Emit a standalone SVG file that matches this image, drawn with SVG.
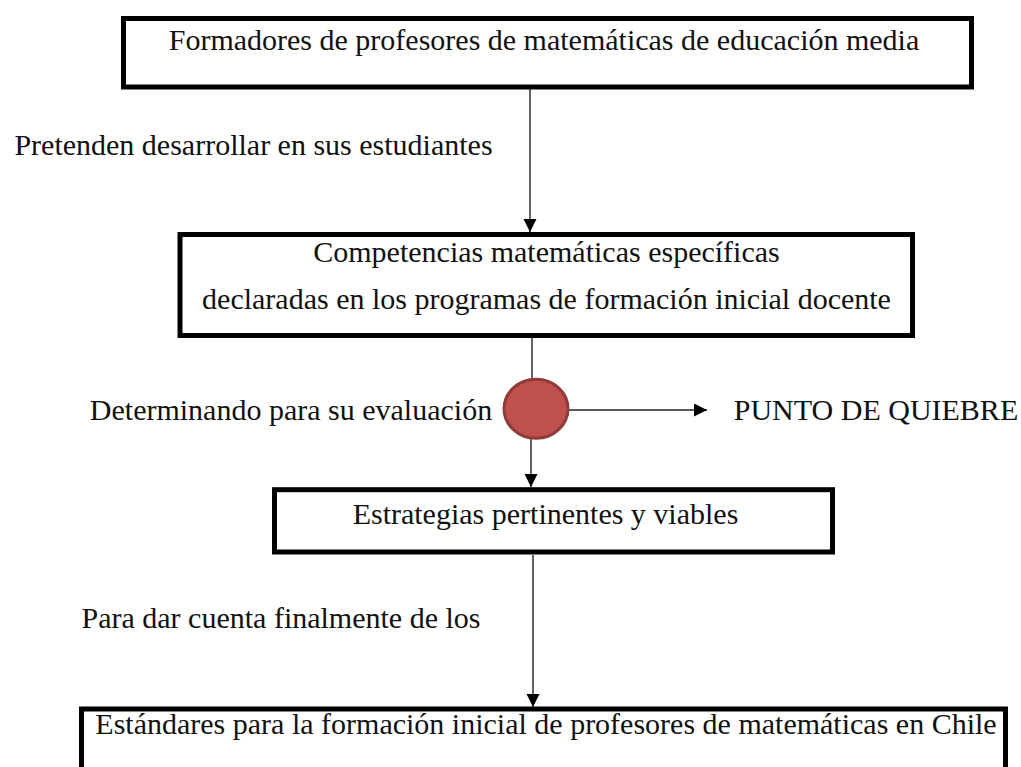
<svg xmlns="http://www.w3.org/2000/svg" width="1021" height="767" viewBox="0 0 1021 767">
<style>
  .box { fill: #ffffff; stroke: #000000; stroke-width: 5; }
  .lbl { font-family: "Liberation Serif", "Times New Roman", serif; font-size: 30px; fill: #111111; text-anchor: middle; }
  .conn { stroke: #222222; stroke-width: 1.4; fill: none; }
</style>
<defs>
  <marker id="arr" markerUnits="userSpaceOnUse" markerWidth="14" markerHeight="14" refX="13" refY="6.5" orient="auto">
    <path d="M0,0 L13,6.5 L0,13 z" fill="#000000"/>
  </marker>
</defs>
<rect width="1021" height="767" fill="#ffffff"/>

<g id="connectors">
  <line class="conn" x1="530" y1="89" x2="530" y2="232" marker-end="url(#arr)"/>
  <line class="conn" x1="532" y1="338" x2="532" y2="379"/>
  <line class="conn" x1="569" y1="410" x2="707" y2="410" marker-end="url(#arr)"/>
  <line class="conn" x1="531" y1="439" x2="531" y2="487" marker-end="url(#arr)"/>
  <line class="conn" x1="533" y1="555" x2="533" y2="707" marker-end="url(#arr)"/>
</g>

<g id="node-formadores">
  <rect class="box" x="123.5" y="18.5" width="848" height="68.5"/>
  <text class="lbl" x="544" y="49.5">Formadores de profesores de matemáticas de educación media</text>
</g>

<g id="label-pretenden">
  <text class="lbl" x="253.5" y="155">Pretenden desarrollar en sus estudiantes</text>
</g>

<g id="node-competencias">
  <rect class="box" x="180" y="234.5" width="732.5" height="101"/>
  <text class="lbl" x="546.5" y="262">Competencias matemáticas específicas</text>
  <text class="lbl" x="546.5" y="308.5">declaradas en los programas de formación inicial docente</text>
</g>

<g id="node-punto">
  <ellipse cx="536" cy="408.8" rx="32" ry="29.5" fill="#C0504D" stroke="#8E3B39" stroke-width="3"/>
</g>

<g id="label-determinando">
  <text class="lbl" x="291" y="420">Determinando para su evaluación</text>
</g>

<g id="label-quiebre">
  <text class="lbl" x="876" y="420">PUNTO DE QUIEBRE</text>
</g>

<g id="node-estrategias">
  <rect class="box" x="274.5" y="489.7" width="558" height="62.3"/>
  <text class="lbl" x="545.5" y="523.5">Estrategias pertinentes y viables</text>
</g>

<g id="label-para">
  <text class="lbl" x="281" y="628">Para dar cuenta finalmente de los</text>
</g>

<g id="node-estandares">
  <rect class="box" x="81.5" y="709" width="924" height="100"/>
  <text class="lbl" x="546" y="733.5">Estándares para la formación inicial de profesores de matemáticas en Chile</text>
</g>
</svg>
